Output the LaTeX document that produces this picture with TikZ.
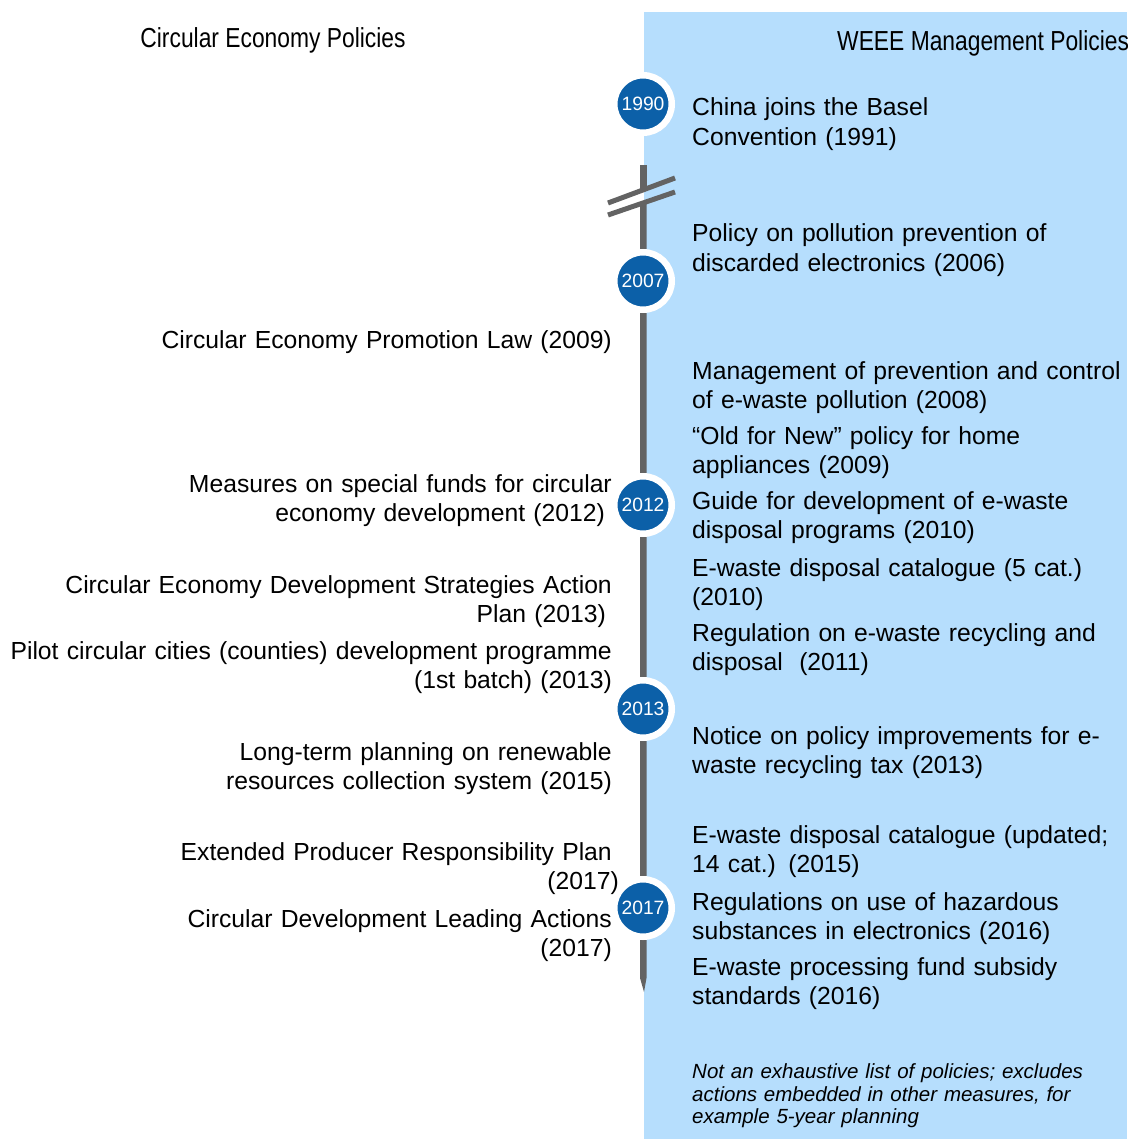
\documentclass[tikz,border=0pt]{standalone}
\usepackage{fontspec}
\setmainfont{Liberation Sans}
\newfontfamily\narrowfont{Liberation Sans}[FakeStretch=0.83]
\usetikzlibrary{positioning}
\definecolor{panelblue}{RGB}{182,222,253}
\definecolor{yearblue}{RGB}{12,96,168}
\definecolor{rulegray}{RGB}{99,99,99}

\begin{document}
\begin{tikzpicture}[x=1pt,y=-1pt,
 yearmark/.style={circle,fill=yearblue,draw=white,line width=6.5pt,minimum size=57.5pt,inner sep=0pt,text=white,font=\fontsize{19.3}{21}\selectfont},
 cepolicy/.style={anchor=base east,inner sep=0pt,text width=620pt,align=right,font=\fontsize{24.7}{29.5}\selectfont},
 weeepolicy/.style={anchor=base west,inner sep=0pt,text width=440pt,align=left,font=\fontsize{24.7}{29.5}\selectfont},
 heading/.style={anchor=base,inner sep=0pt,font=\narrowfont\fontsize{27.5}{30}\selectfont}]
 \useasboundingbox (0,0) rectangle (1127,1139);
 \fill[panelblue] (644,12) rectangle (1127,1139);
 \node[heading] (cehead) at (273,48) {Circular Economy Policies};
 \node[heading,anchor=base west] (weeehead) at (837,51) {WEEE Management Policies};
 % time axis with break
 \fill[rulegray] (640,165) rectangle (646.5,191);
 \fill[rulegray] (640,202)--(646.5,202)--(646.5,978)--(644,992)--(640,978)--cycle;
 \draw[rulegray,line width=5pt] (608,203)--(675,178);
 \draw[rulegray,line width=5pt] (608,215)--(675,192);
 % years
 \node[yearmark] (y1990) at (643,104) {1990};
 \node[yearmark] (y2007) at (643,281) {2007};
 \node[yearmark] (y2012) at (643,505) {2012};
 \node[yearmark] (y2013) at (643,709) {2013};
 \node[yearmark] (y2017) at (643,908) {2017};
 % circular economy side
 \node[cepolicy] (promolaw) at (612,348) {Circular Economy Promotion Law (2009)};
 \node[cepolicy] (funds) at (612,492) {Measures on special funds for circular\\economy development (2012)\kern7pt};
 \node[cepolicy] (strategies) at (612,593) {Circular Economy Development Strategies Action\\Plan (2013)\kern6pt};
 \node[cepolicy] (pilot) at (612,659) {Pilot circular cities (counties) development programme\\(1st batch) (2013)};
 \node[cepolicy] (renewable) at (612,760) {Long-term planning on renewable\\resources collection system (2015)};
 \node[cepolicy] (epr) at (612,860) {Extended Producer Responsibility Plan\\(2017)\kern-7pt};
 \node[cepolicy] (leading) at (612,927) {Circular Development Leading Actions\\(2017)};
 % WEEE side
 \node[weeepolicy] (basel) at (692,116) {China joins the Basel\\Convention (1991)};
 \node[weeepolicy] (discarded) at (692,242) {Policy on pollution prevention of\\discarded electronics (2006)};
 \node[weeepolicy] (control) at (692,379) {Management of prevention and control\\of e-waste pollution (2008)};
 \node[weeepolicy] (oldnew) at (692,444) {“Old for New” policy for home\\appliances (2009)};
 \node[weeepolicy] (guide) at (692,509) {Guide for development of e-waste\\disposal programs (2010)};
 \node[weeepolicy] (catfive) at (692,576) {E-waste disposal catalogue (5 cat.)\\(2010)};
 \node[weeepolicy] (recycling) at (692,641) {Regulation on e-waste recycling and\\disposal\ \ (2011)};
 \node[weeepolicy] (taxnotice) at (692,744) {Notice on policy improvements for e-\\waste recycling tax (2013)};
 \node[weeepolicy] (catupdate) at (692,843) {E-waste disposal catalogue (updated;\\14 cat.) (2015)};
 \node[weeepolicy] (hazardous) at (692,910) {Regulations on use of hazardous\\substances in electronics (2016)};
 \node[weeepolicy] (subsidy) at (692,975) {E-waste processing fund subsidy\\standards (2016)};
 \node[weeepolicy,font=\itshape\fontsize{20.5}{22.5}\selectfont] (note) at (692,1078.5) {Not an exhaustive list of policies; excludes\\actions embedded in other measures, for\\example 5-year planning};
\end{tikzpicture}
\end{document}
